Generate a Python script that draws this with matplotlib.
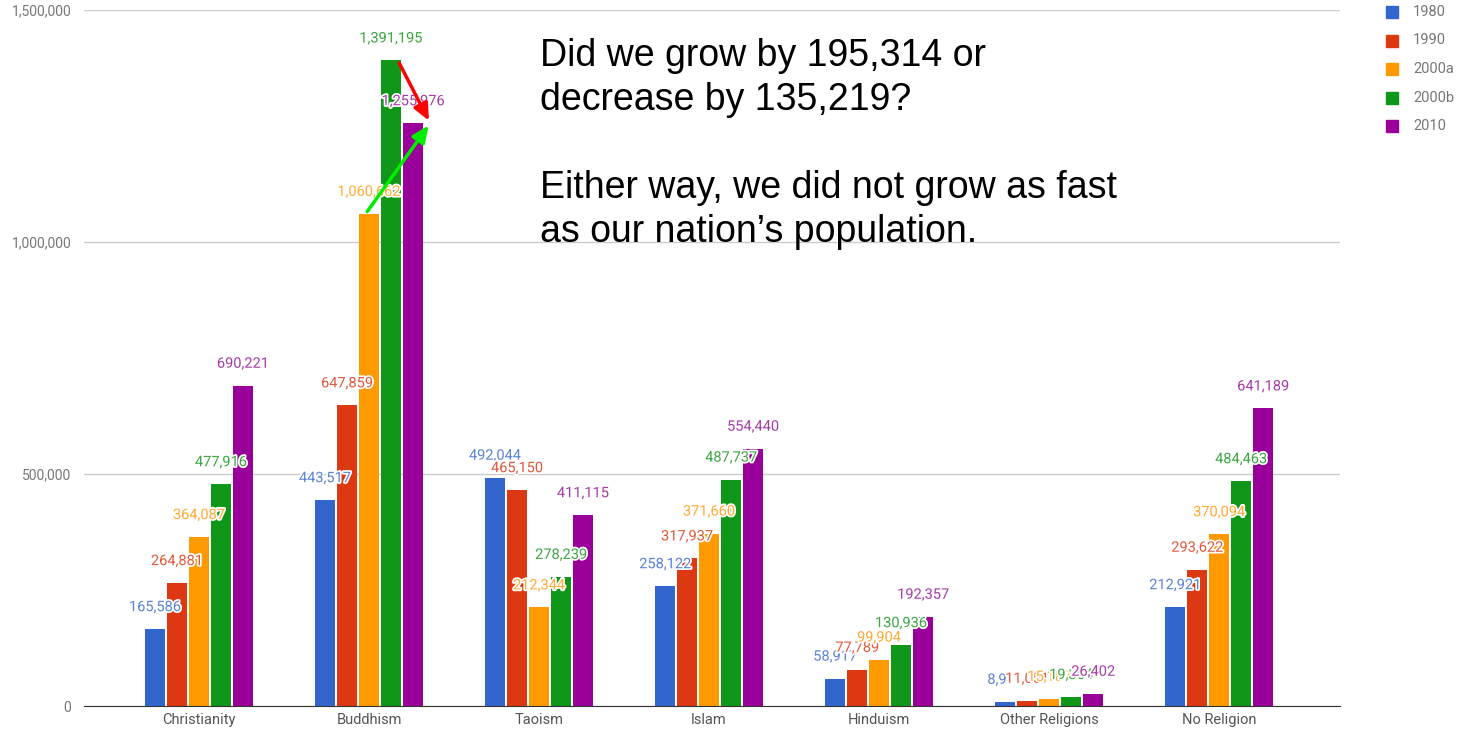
import numpy as np
import matplotlib.pyplot as plt
import matplotlib.patheffects as pe
from matplotlib.ticker import FuncFormatter

plt.rcParams['font.family'] = ['Roboto', 'DejaVu Sans']

categories = ['Christianity', 'Buddhism', 'Taoism', 'Islam', 'Hinduism',
              'Other Religions', 'No Religion']
series = ['1980', '1990', '2000a', '2000b', '2010']
v1980 = [165586, 443517, 492044, 258122, 58917, 8911, 212921]
v1990 = [264881, 647859, 465150, 317937, 77789, 11051, 293622]
v2000a = [364087, 1060662, 212344, 371660, 99904, 15187, 370094]
v2000b = [477916, 1391195, 278239, 487737, 130936, 19364, 484463]
v2010 = [690221, 1255976, 411115, 554440, 192357, 26402, 641189]
values = [v1980, v1990, v2000a, v2000b, v2010]
colors = ['#3366cc', '#dc3912', '#ff9900', '#109618', '#990099']
label_colors = ['#5a82d6', '#e0583a', '#ffaa33', '#3aa63f', '#a63aa6']

fig = plt.figure(figsize=(14.68, 7.33), dpi=100)
ax = fig.add_axes([84 / 1468, 27 / 733, (1340 - 84) / 1468, 696 / 733])

x = np.arange(len(categories))
step = 0.1294
width = 0.118
for i, (vals, c, lc) in enumerate(zip(values, colors, label_colors)):
    pos = x + (i - 2) * step
    ax.bar(pos, vals, width=width, color=c, zorder=3)
    for px, v in zip(pos, vals):
        ax.annotate(f'{v:,}', (px, v), xytext=(0, 22), textcoords='offset pixels',
                    ha='center', va='center', fontsize=10.5, color=lc, zorder=5,
                    path_effects=[pe.withStroke(linewidth=2.5, foreground='white')])

ax.set_xlim(-0.676, 6.71)
ax.set_ylim(0, 1500000)
ax.set_yticks([0, 500000, 1000000, 1500000])
ax.yaxis.set_major_formatter(FuncFormatter(lambda v, p: f'{int(v):,}'))
ax.set_xticks(x)
ax.set_xticklabels(categories)
ax.tick_params(axis='x', length=0, labelsize=10.5, labelcolor='#555555', pad=5)
ax.tick_params(axis='y', length=0, labelsize=10, labelcolor='#777777', pad=9)
ax.grid(axis='y', color='#cccccc', linewidth=1, zorder=0)
for s in ['top', 'right', 'left']:
    ax.spines[s].set_visible(False)
ax.spines['bottom'].set_color('#333333')
ax.spines['bottom'].set_zorder(4)

# arrows on Buddhism
b = categories.index('Buddhism')
target = (b + 0.36, v2010[b])
ax.annotate('', xy=target, xytext=(b + 0.17, v2000b[b]),
            arrowprops=dict(arrowstyle='-|>,head_width=0.45,head_length=1.0',
                            color='#ff0000', lw=2.5), zorder=6)
ax.annotate('', xy=target, xytext=(b - 0.02, v2000a[b]),
            arrowprops=dict(arrowstyle='-|>,head_width=0.45,head_length=1.0',
                            color='#00ee00', lw=2.5), zorder=6)

fig.text(540 / 1468, 1 - 38 / 733,
         'Did we grow by 195,314 or\ndecrease by 135,219?\n\n'
         'Either way, we did not grow as fast\nas our nation\u2019s population.',
         fontsize=27, va='top', ha='left', linespacing=1.29, color='black',
         family=['Liberation Sans', 'DejaVu Sans'])

# legend
for i, (s, c) in enumerate(zip(series, colors)):
    yy = 1 - (12 + i * 28.5) / 733
    fig.patches.append(plt.Rectangle((1386 / 1468, yy - 6 / 733), 12 / 1468, 12 / 733,
                                     transform=fig.transFigure, color=c))
    fig.text(1413 / 1468, yy, s, fontsize=10.5, color='#777777', va='center', ha='left')

fig.savefig('out.png', dpi=100)
